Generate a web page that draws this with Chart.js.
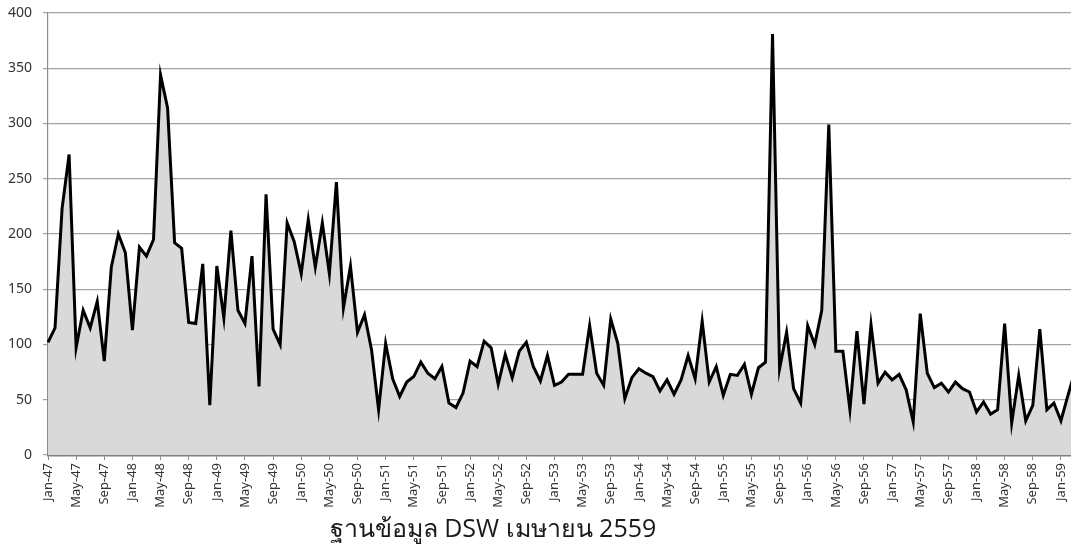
<!DOCTYPE html>
<html>
<head>
<meta charset="utf-8">
<script src="https://cdn.jsdelivr.net/npm/chart.js@4/dist/chart.umd.min.js"></script>
<style>
  html, body { margin: 0; padding: 0; background: #fff; overflow: hidden; }
  #wrap { position: relative; width: 1090px; height: 548px; }
  #caption {
    position: absolute; left: 293px; top: 515px; width: 400px;
    text-align: center; font-family: "Open Sans", "Noto Sans", sans-serif;
    font-size: 25px; line-height: 25px; color: #1a1a1a; white-space: nowrap;
  }
</style>
</head>
<body>
<div id="wrap">
  <canvas id="chart"></canvas>
  <div id="caption">ฐานข้อมูล DSW เมษายน 2559</div>
</div>
<script>
// months and years for the category labels (Jan-47 .. Mar-59)
const monthNames = ["Jan", "Feb", "Mar", "Apr", "May", "Jun", "Jul", "Aug", "Sep", "Oct", "Nov", "Dec"];
const years = [47, 48, 49, 50, 51, 52, 53, 54, 55, 56, 57, 58, 59];

// monthly values, one array per year
const y47 = [102, 115, 223, 272, 97, 131, 115, 139, 85, 170, 200, 183];
const y48 = [113, 188, 180, 195, 344, 314, 192, 187, 120, 119, 173, 45];
const y49 = [171, 124, 203, 131, 119, 180, 62, 236, 114, 100, 210, 193];
const y50 = [164, 213, 170, 210, 164, 247, 133, 171, 111, 127, 95, 41];
const y51 = [101, 69, 53, 66, 71, 84, 74, 69, 80, 47, 43, 56];
const y52 = [85, 80, 103, 97, 64, 91, 70, 94, 102, 80, 67, 90];
const y53 = [63, 66, 73, 73, 73, 117, 74, 63, 123, 101, 51, 70];
const y54 = [78, 74, 71, 58, 68, 55, 68, 90, 69, 121, 66, 80];
const y55 = [54, 73, 72, 82, 55, 79, 84, 381, 78, 111, 60, 47];
const y56 = [117, 100, 131, 299, 94, 94, 41, 112, 46, 118, 65, 75];
const y57 = [68, 73, 59, 30, 128, 74, 61, 65, 57, 66, 60, 57];
const y58 = [39, 48, 37, 41, 119, 29, 72, 31, 45, 114, 41, 47];
const y59 = [31, 54, 76];

const values = [].concat(y47, y48, y49, y50, y51, y52, y53, y54, y55, y56, y57, y58, y59);

const labels = [];
years.forEach(function (yr) {
  monthNames.forEach(function (m) {
    if (labels.length < values.length) labels.push(m + "-" + yr);
  });
});

const ctx = document.getElementById("chart").getContext("2d");
new Chart(ctx, {
  type: "line",
  data: {
    labels: labels,
    datasets: [
      {
        data: values,
        borderColor: "#000",
        borderWidth: 3,
        backgroundColor: "#d9d9d9",
        fill: "origin",
        pointRadius: 0,
        tension: 0,
      },
    ],
  },
  options: {
    responsive: true,
    maintainAspectRatio: false,
    animation: false,
    layout: {
      padding: { top: 13, right: 15, bottom: 0, left: 0 },
    },
    plugins: {
      legend: { display: false },
      tooltip: { enabled: false },
    },
    scales: {
      x: {
        offset: false,
        grid: {
          drawOnChartArea: false,
          drawTicks: true,
          tickLength: 5,
          color: (c) => (c.index % 4 === 0 ? "#8a8a8a" : "rgba(0,0,0,0)"),
        },
        border: { color: "#7f7f7f", width: 2.5 },
        ticks: {
          autoSkip: false,
          maxRotation: 90,
          minRotation: 90,
          padding: 3,
          color: "#333",
          font: { family: "'Noto Sans', sans-serif", size: 13 },
          callback: function (val, i) {
            return i % 4 === 0 ? this.getLabelForValue(val) : "";
          },
        },
        afterFit: function (scale) {
          scale.height = 93;
          scale.paddingLeft = 0;
          scale.paddingRight = 0;
        },
      },
      y: {
        min: 0,
        max: 400,
        grid: {
          color: "#a3a3a3",
          lineWidth: 1.2,
          tickLength: 5,
        },
        border: { color: "#8c8c8c", width: 1.2 },
        ticks: {
          stepSize: 50,
          padding: 11,
          color: "#333",
          font: { family: "'Noto Sans', sans-serif", size: 14 },
        },
        afterFit: function (scale) {
          scale.width = 48;
          scale.paddingTop = 0;
          scale.paddingBottom = 0;
        },
      },
    },
  },
});
</script>
</body>
</html>
